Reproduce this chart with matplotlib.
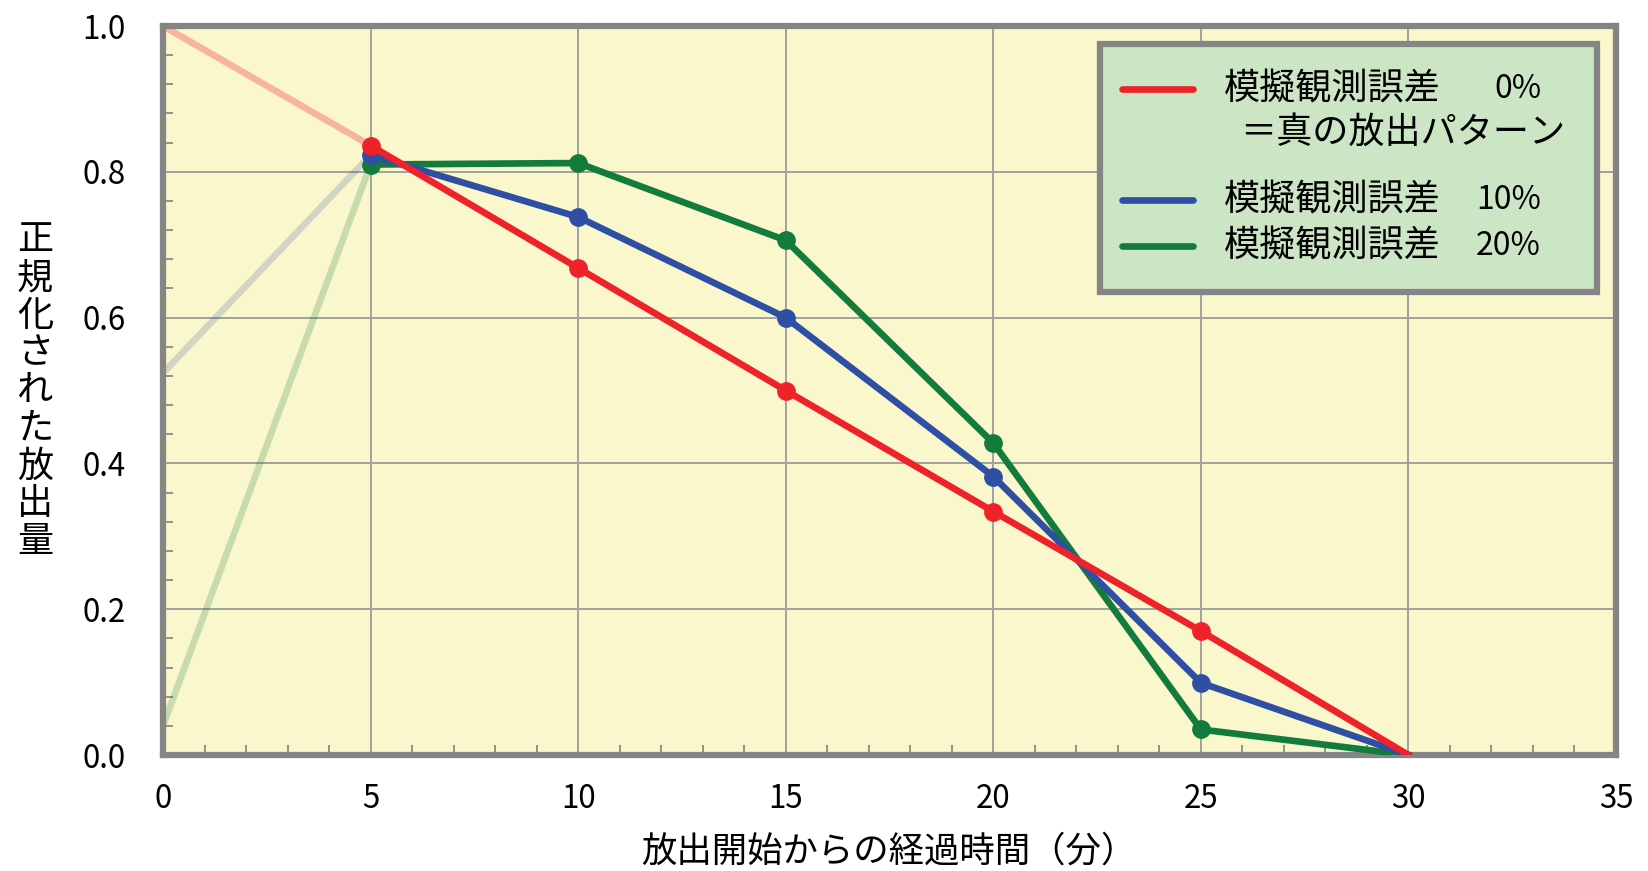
import matplotlib
matplotlib.use("Agg")
import matplotlib.pyplot as plt
from matplotlib.ticker import MultipleLocator
from matplotlib.patches import Rectangle
from matplotlib.lines import Line2D

plt.rcParams['font.family'] = ['Noto Sans CJK JP', 'DejaVu Sans']

# ---- data ----
times = [0, 5, 10, 15, 20, 25, 30]
err0 = [1.0, 0.836, 0.668, 0.500, 0.334, 0.170, 0.0]
err10 = [0.524, 0.823, 0.738, 0.600, 0.382, 0.099, 0.0]
err20 = [0.04, 0.810, 0.812, 0.706, 0.428, 0.035, 0.0]
series_names = ["模擬観測誤差", "模擬観測誤差", "模擬観測誤差"]
series_pcts = ["0%", "10%", "20%"]
sub_label = "＝真の放出パターン"
xticks = [0, 5, 10, 15, 20, 25, 30, 35]
yticks = [0.0, 0.2, 0.4, 0.6, 0.8, 1.0]
xlabel = "放出開始からの経過時間（分）"
ylabel = "正規化された放出量"

colors = ["#EE2229", "#2E4FA3", "#137B3B"]
bg = "#FBF7CD"

fig = plt.figure(figsize=(16.48, 8.71), dpi=100)
ax = fig.add_axes([163/1648, 1-755/871, (1616-163)/1648, (755-26)/871])
ax.set_facecolor(bg)
ax.set_xlim(0, 35)
ax.set_ylim(0, 1.0)

ax.set_xticks(xticks)
ax.set_yticks(yticks)
ax.set_xticklabels([str(v) for v in xticks])
ax.set_yticklabels([f"{v:.1f}" for v in yticks])
ax.xaxis.set_minor_locator(MultipleLocator(1))
ax.yaxis.set_minor_locator(MultipleLocator(0.04))
ax.tick_params(which='major', length=0, labelsize=22.5, pad=20)
ax.tick_params(axis='y', which='major', pad=27)
ax.tick_params(which='minor', direction='in', length=7, width=1.3, color='#8a8a8a')
ax.grid(True, which='major', color='#a0a0a0', lw=1.4)
ax.set_axisbelow(True)
for sp in ax.spines.values():
    sp.set_color('#858585')
    sp.set_linewidth(4.5)

series = [err20, err10, err0]
cols = [colors[2], colors[1], colors[0]]
alphas = [0.22, 0.2, 0.3]
for i, (vals, c, a) in enumerate(zip(series, cols, alphas)):
    z = 3 + i
    ax.plot(times[:2], vals[:2], color=c, alpha=a, lw=4.8, solid_capstyle='butt', zorder=2)
    ax.plot(times[1:], vals[1:], color=c, lw=4.8, zorder=z, solid_joinstyle='round')
    ax.plot(times[1:-1], vals[1:-1], 'o', color=c, ms=12.5, zorder=z)

# legend drawn manually
fig.patches.append(Rectangle((1100/1648, 1-292/871), 497/1648, 248/871,
                             transform=fig.transFigure, facecolor='#CCE5C5',
                             edgecolor='#858585', lw=4.5, zorder=10))
leg_y = [89, 200, 246]
for name, pct, c, y in zip(series_names, series_pcts, colors, leg_y):
    fig.lines.append(Line2D([1122/1648, 1193/1648], [1-y/871, 1-y/871],
                            transform=fig.transFigure, color=c, lw=4.8,
                            solid_capstyle='round', zorder=11))
    fig.text(1224/1648, 1-y/871, name, fontsize=26, va='center', ha='left', zorder=12)
    fig.text(1541/1648, 1-y/871, pct, fontsize=23, va='center', ha='right', zorder=12)
fig.text(1240/1648, 1-133/871, sub_label, fontsize=26, va='center', ha='left', zorder=12)

fig.text(889/1648, 1-852/871, xlabel, fontsize=25.5, ha='center', va='center')
fig.text(35/1648, 1-391/871, "\n".join(ylabel), fontsize=26, ha='center', va='center',
         linespacing=1.06)

fig.savefig("out.png", dpi=100, facecolor='white')
